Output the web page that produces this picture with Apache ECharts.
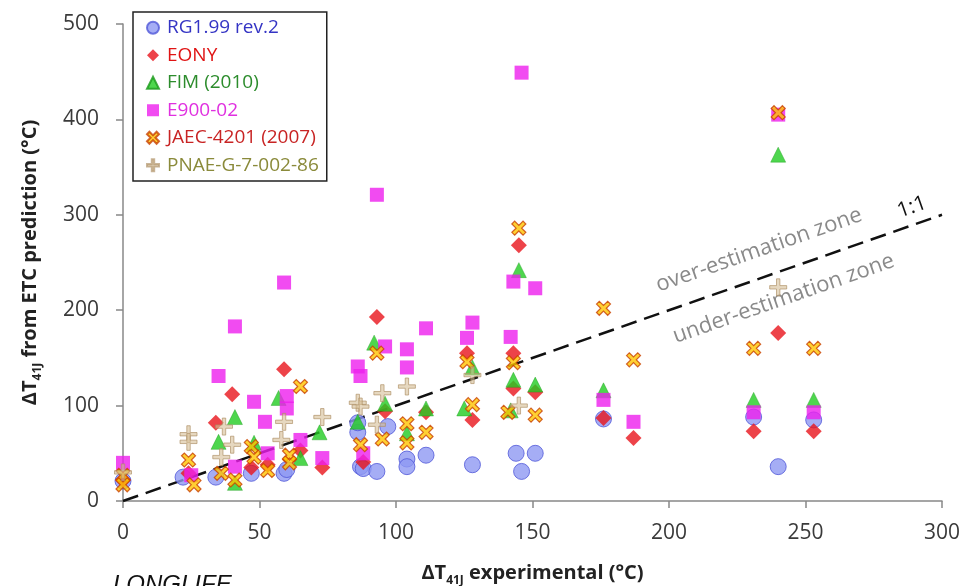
<!DOCTYPE html>
<html>
<head>
<meta charset="utf-8">
<script src="https://cdn.jsdelivr.net/npm/echarts@6/dist/echarts.min.js"></script>
<style>
  html, body { margin: 0; padding: 0; background: #fff; }
  #chart { width: 967px; height: 586px; }
</style>
</head>
<body>
<div id="chart"></div>
<script>
// [ΔT41J experimental, ΔT41J predicted]
const rgData = [
  [0, 21], [22, 25], [34, 25], [47, 29], [59, 29], [60, 33], [86, 72], [86, 82],
  [87, 36], [88, 34], [93, 31], [97, 78], [104, 44], [104, 36], [111, 48],
  [128, 38], [144, 50], [146, 31], [151, 50], [176, 86], [231, 88], [240, 36], [253, 85]
]
const eonyData = [
  [0, 22], [24, 29], [34, 82], [40, 112], [47, 35], [53, 38], [59, 138], [65, 53],
  [73, 35], [88, 41], [93, 193], [96, 94], [111, 93], [126, 155], [128, 85],
  [143, 155], [145, 268], [143, 118], [151, 114], [176, 87], [187, 66],
  [231, 73], [240, 176], [253, 73]
]
const fimData = [
  [35, 62], [41, 88], [41, 19], [48, 61], [57, 108], [65, 45], [72, 72], [86, 83],
  [92, 166], [96, 102], [104, 71], [111, 97], [125, 97], [128, 140], [143, 127],
  [145, 242], [142, 95], [151, 122], [176, 116], [231, 106], [240, 363], [253, 106]
]
const e900Data = [
  [0, 40], [25, 27], [35, 131], [41, 183], [41, 36], [48, 104], [52, 83], [53, 50],
  [59, 229], [60, 110], [60, 97], [65, 64], [73, 45], [86, 141], [87, 131], [88, 50],
  [93, 321], [96, 162], [104, 159], [104, 140], [111, 181], [126, 171], [128, 187],
  [143, 230], [142, 172], [146, 449], [151, 223], [176, 106], [187, 83],
  [231, 93], [240, 405], [253, 93]
]
const jaecData = [
  [0, 27], [0, 17], [24, 43], [26, 17], [36, 29], [41, 22], [47, 57], [48, 46],
  [53, 32], [61, 48], [61, 40], [65, 120], [87, 59], [93, 155], [95, 65],
  [104, 81], [104, 61], [111, 72], [126, 146], [128, 101], [143, 145], [145, 286],
  [141, 93], [151, 90], [176, 202], [187, 148], [231, 160], [240, 407], [253, 160]
]
const pnaeData = [
  [0, 30], [24, 70], [24, 62], [37, 78], [40, 59], [36, 46], [59, 83], [58, 64],
  [73, 88], [86, 103], [87, 99], [93, 80], [95, 113], [104, 120], [128, 132],
  [145, 100], [240, 224]
]
const oneToOne = [[0, 0], [300, 300]]
const seriesNames = ['RG1.99 rev.2', 'EONY', 'FIM (2010)', 'E900-02', 'JAEC-4201 (2007)', 'PNAE-G-7-002-86']
const legendColors = ['#3434c4', '#e01414', '#2c8c2c', '#e030e0', '#c82424', '#8a8a3a']
// annotation anchors in data space
const oneLabelAt = [289, 308]
const overLabelAt = [233, 263]
const underLabelAt = [242, 212]

const chart = echarts.init(document.getElementById('chart'))

const xMarker = 'path://M0,2 L2,0 L5,3 L8,0 L10,2 L7,5 L10,8 L8,10 L5,7 L2,10 L0,8 L3,5 Z'
const plusMarker = 'path://M4,0 H6 V4 H10 V6 H6 V10 H4 V6 H0 V4 H4 Z'
const baseFont = "'Open Sans', 'Noto Sans', sans-serif"

const nameRich = {
  a: { fontSize: 20, fontWeight: 'bold', color: '#222', lineHeight: 21, verticalAlign: 'top', fontFamily: baseFont },
  s: { fontSize: 12, fontWeight: 'bold', color: '#222', lineHeight: 12, padding: [14, 0, 0, 0], fontFamily: baseFont }
}

const option = {
  backgroundColor: '#fff',
  animation: false,
  grid: { left: 123, right: 25, top: 24, bottom: 85, outerBoundsMode: 'none', containLabel: false },
  legend: {
    orient: 'vertical',
    left: 133,
    top: 12,
    padding: [5, 8, 5, 13],
    itemGap: 6,
    itemWidth: 12,
    itemHeight: 12,
    borderColor: '#222',
    borderWidth: 1.5,
    data: seriesNames.map((name, i) => ({ name: name, textStyle: { color: legendColors[i] } })),
    textStyle: {
      fontSize: 19,
      lineHeight: 21.5,
      fontFamily: baseFont,
      padding: [0, 0, 0, 3]
    }
  },
  xAxis: {
    type: 'value',
    min: 0,
    max: 300,
    interval: 50,
    name: '{a|ΔT}{s|41J}{a| experimental (°C)}',
    nameLocation: 'middle',
    nameGap: 62,
    nameTextStyle: { rich: nameRich },
    axisLine: { lineStyle: { color: '#888', width: 1.5 } },
    axisTick: { show: true, length: 7, lineStyle: { color: '#888', width: 1.5 } },
    axisLabel: { fontSize: 21, color: '#3a3a3a', margin: 22, fontFamily: baseFont },
    splitLine: { show: false }
  },
  yAxis: {
    type: 'value',
    min: 0,
    max: 500,
    interval: 100,
    name: '{a|ΔT}{s|41J}{a| from ETC prediction (°C)}',
    nameLocation: 'middle',
    nameGap: 82,
    nameTextStyle: { rich: nameRich },
    axisLine: { show: true, lineStyle: { color: '#888', width: 1.5 } },
    axisTick: { show: true, length: 7, lineStyle: { color: '#888', width: 1.5 } },
    axisLabel: { fontSize: 21, color: '#3a3a3a', margin: 24, fontFamily: baseFont },
    splitLine: { show: false }
  },
  series: [
    {
      name: '1:1',
      type: 'line',
      data: oneToOne,
      symbol: 'none',
      silent: true,
      lineStyle: { color: '#111', width: 2.5, type: [16, 8] },
      z: 1
    },
    {
      name: seriesNames[0],
      type: 'scatter',
      data: rgData,
      symbol: 'circle',
      symbolSize: 16,
      itemStyle: { color: '#8e98f2', borderColor: '#5058d8', borderWidth: 1 },
      z: 2
    },
    {
      name: seriesNames[1],
      type: 'scatter',
      data: eonyData,
      symbol: 'diamond',
      symbolSize: [16, 16],
      itemStyle: { color: '#e8141c' },
      z: 3
    },
    {
      name: seriesNames[2],
      type: 'scatter',
      data: fimData,
      symbol: 'triangle',
      symbolSize: 15,
      itemStyle: { color: '#22cc22', borderColor: '#1a9a1a', borderWidth: 0.5 },
      z: 4
    },
    {
      name: seriesNames[3],
      type: 'scatter',
      data: e900Data,
      symbol: 'rect',
      symbolSize: 14,
      itemStyle: { color: '#ee1eee' },
      z: 5
    },
    {
      name: seriesNames[4],
      type: 'scatter',
      data: jaecData,
      symbol: xMarker,
      symbolSize: 14,
      itemStyle: { color: '#ffc400', borderColor: '#c84000', borderWidth: 1.2 },
      z: 6
    },
    {
      name: seriesNames[5],
      type: 'scatter',
      data: pnaeData,
      symbol: plusMarker,
      symbolSize: 17,
      itemStyle: { color: 'rgba(214,190,150,0.75)', borderColor: 'rgba(170,140,95,0.8)', borderWidth: 1 },
      z: 7
    }
  ],
  graphic: [
    {
      type: 'text',
      left: 113,
      top: 573,
      style: { text: 'LONGLIFE', fontSize: 24, fontStyle: 'italic', fill: '#111', fontFamily: "'Liberation Sans', sans-serif" }
    }
  ]
}

chart.setOption(option)

// Position the rotated zone annotations along the 1:1 line
const p0 = chart.convertToPixel({ seriesIndex: 0 }, oneToOne[0])
const p1 = chart.convertToPixel({ seriesIndex: 0 }, oneToOne[1])
const angle = Math.atan2(p0[1] - p1[1], p1[0] - p0[0])
const pOne = chart.convertToPixel({ seriesIndex: 0 }, oneLabelAt)
const pOver = chart.convertToPixel({ seriesIndex: 0 }, overLabelAt)
const pUnder = chart.convertToPixel({ seriesIndex: 0 }, underLabelAt)

chart.setOption({
  graphic: [
    option.graphic[0],
    {
      type: 'text', x: pOne[0], y: pOne[1], rotation: angle,
      style: { text: '1:1', fontSize: 21, fill: '#111', align: 'center', verticalAlign: 'middle', fontFamily: baseFont }
    },
    {
      type: 'text', x: pOver[0], y: pOver[1], rotation: angle,
      style: { text: 'over-estimation zone', fontSize: 22, fill: '#8a8a8a', align: 'center', verticalAlign: 'middle', fontFamily: baseFont }
    },
    {
      type: 'text', x: pUnder[0], y: pUnder[1], rotation: angle,
      style: { text: 'under-estimation zone', fontSize: 22, fill: '#8a8a8a', align: 'center', verticalAlign: 'middle', fontFamily: baseFont }
    }
  ]
})
</script>
</body>
</html>
